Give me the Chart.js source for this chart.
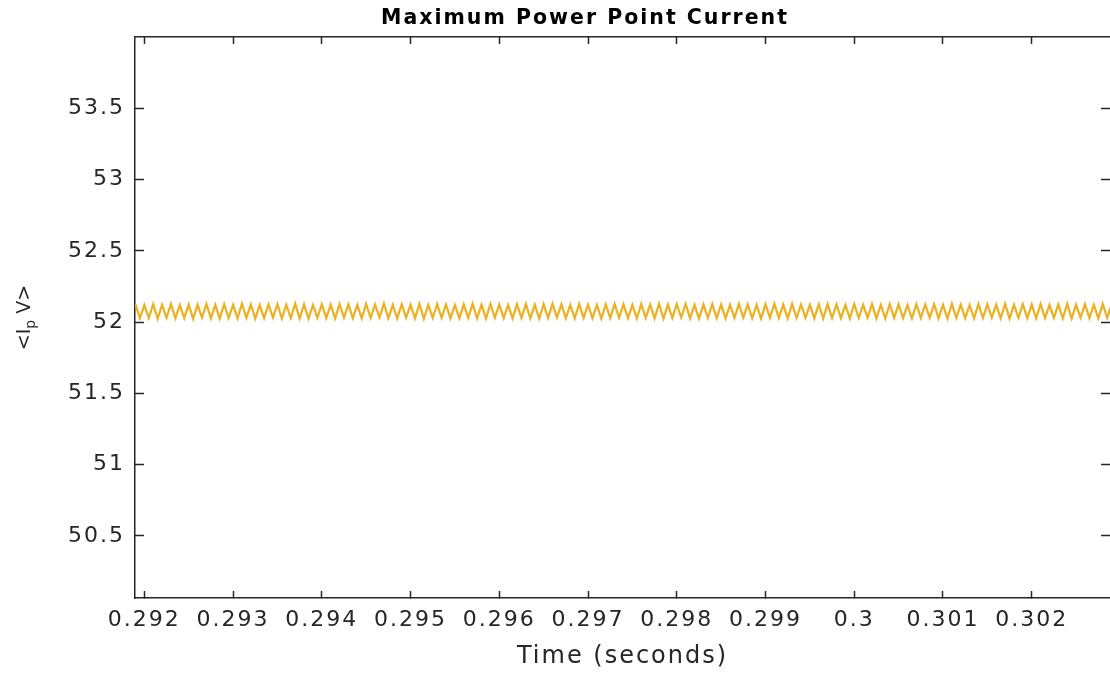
<!DOCTYPE html>
<html><head><meta charset="utf-8">
<script src="https://cdn.jsdelivr.net/npm/chart.js@4.4.1/dist/chart.umd.min.js"></script>
<style>html,body{margin:0;padding:0;background:#fff;overflow:hidden}canvas{display:block}</style>
</head><body>
<canvas id="c" width="1110" height="674" style="width:1110px;height:674px"></canvas>
<script>
const chartTitle = 'Maximum Power Point Current';
const xAxisTitle = 'Time (seconds)';
const yAxisLabelParts = ['<I', 'p', ' V>'];
const xTickValues = [0.292, 0.293, 0.294, 0.295, 0.296, 0.297, 0.298, 0.299, 0.300, 0.301, 0.302];
const xTickLabels = ['0.292', '0.293', '0.294', '0.295', '0.296', '0.297', '0.298', '0.299', '0.3', '0.301', '0.302'];
const yTickValues = [50.5, 51, 51.5, 52, 52.5, 53, 53.5];
const yTickLabels = ['50.5', '51', '51.5', '52', '52.5', '53', '53.5'];
const xRange = [0.291895, 0.302882];
const yRange = [50.065, 54.0];
const sampleStart = 0.2919;
const samplePeriod = 0.00005;
const currentValues = [
  52.124, 52.027, 52.121, 52.029, 52.126, 52.025, 52.122, 52.030, 52.127, 52.026,
  52.120, 52.028, 52.125, 52.024, 52.123, 52.031, 52.128, 52.027, 52.121, 52.025,
  52.126, 52.029, 52.122, 52.026, 52.129, 52.030, 52.124, 52.025, 52.120, 52.028,
  52.125, 52.032, 52.127, 52.026, 52.122, 52.029, 52.130, 52.027, 52.124, 52.024,
  52.121, 52.030, 52.126, 52.028, 52.123, 52.025, 52.128, 52.031, 52.125, 52.027,
  52.122, 52.026, 52.127, 52.029, 52.124, 52.032, 52.129, 52.028, 52.121, 52.025,
  52.126, 52.030, 52.123, 52.027, 52.128, 52.024, 52.122, 52.029, 52.127, 52.031,
  52.124, 52.026, 52.120, 52.028, 52.125, 52.030, 52.129, 52.027, 52.123, 52.025,
  52.127, 52.031, 52.124, 52.028, 52.121, 52.026, 52.126, 52.030, 52.128, 52.027,
  52.123, 52.025, 52.126, 52.029, 52.130, 52.032, 52.125, 52.028, 52.122, 52.026,
  52.127, 52.030, 52.124, 52.027, 52.121, 52.025, 52.126, 52.029, 52.128, 52.031,
  52.125, 52.028, 52.122, 52.026, 52.127, 52.030, 52.124, 52.027, 52.129, 52.025,
  52.123, 52.029, 52.126, 52.032, 52.128, 52.027, 52.121, 52.025, 52.125, 52.030,
  52.127, 52.028, 52.124, 52.026, 52.122, 52.029, 52.128, 52.031, 52.125, 52.027,
  52.121, 52.025, 52.126, 52.030, 52.129, 52.028, 52.123, 52.026, 52.127, 52.029,
  52.124, 52.031, 52.122, 52.027, 52.126, 52.025, 52.128, 52.030, 52.125, 52.028,
  52.121, 52.026, 52.127, 52.029, 52.123, 52.032, 52.126, 52.027, 52.122, 52.025,
  52.128, 52.030, 52.125, 52.028, 52.121, 52.026, 52.127, 52.029, 52.124, 52.031,
  52.126, 52.027, 52.122, 52.025, 52.129, 52.030, 52.124, 52.028, 52.121, 52.026,
  52.127, 52.029, 52.125, 52.032, 52.123, 52.027, 52.128, 52.025, 52.122, 52.030,
  52.126, 52.028, 52.124, 52.026, 52.127, 52.029, 52.121, 52.031, 52.125, 52.027,
  52.128, 52.025, 52.123, 52.030, 52.126, 52.028, 52.122, 52.026, 52.127, 52.029,
  52.124
];

const FONT = 'DejaVu Sans';
const AXIS_COLOR = '#262626';
const points = currentValues.map((v, i) => ({ x: sampleStart + i * samplePeriod, y: v }));

const spacingPlugin = {
  id: 'spacing',
  beforeDraw(chart) { chart.ctx.letterSpacing = '2px'; }
};
const yLabelPlugin = {
  id: 'ylabel',
  afterDraw(chart) {
    const ctx = chart.ctx;
    const cy = (chart.chartArea.top + chart.chartArea.bottom) / 2;
    ctx.save();
    ctx.letterSpacing = '0px';
    ctx.fillStyle = AXIS_COLOR;
    ctx.textBaseline = 'alphabetic';
    ctx.textAlign = 'left';
    ctx.translate(30, cy);
    ctx.rotate(-Math.PI / 2);
    const mainFont = '19px "' + FONT + '"';
    const subFont = '14px "' + FONT + '"';
    ctx.font = mainFont;
    const w1 = ctx.measureText(yAxisLabelParts[0]).width;
    const w3 = ctx.measureText(yAxisLabelParts[2]).width;
    ctx.font = subFont;
    const w2 = ctx.measureText(yAxisLabelParts[1]).width;
    let x = -(w1 + w2 + w3) / 2;
    ctx.font = mainFont;
    ctx.fillText(yAxisLabelParts[0], x, 0); x += w1;
    ctx.font = subFont;
    ctx.fillText(yAxisLabelParts[1], x, 5); x += w2;
    ctx.font = mainFont;
    ctx.fillText(yAxisLabelParts[2], x, 0);
    ctx.restore();
  }
};

const tickFont = { family: FONT, size: 22 };
const setXTicks = s => { s.ticks = xTickValues.map(v => ({ value: v })); };
const setYTicks = s => { s.ticks = yTickValues.map(v => ({ value: v })); };

new Chart(document.getElementById('c'), {
  type: 'line',
  data: {
    datasets: [{
      data: points,
      borderColor: '#EDB120',
      borderWidth: 2.2,
      pointRadius: 0,
      tension: 0,
      fill: false
    }]
  },
  plugins: [spacingPlugin, yLabelPlugin],
  options: {
    responsive: false,
    animation: false,
    devicePixelRatio: 1,
    layout: { padding: { left: 60, right: 0, top: 0, bottom: 0 } },
    plugins: {
      legend: { display: false },
      tooltip: { enabled: false },
      title: {
        display: true, text: chartTitle, color: '#000',
        font: { family: FONT, size: 20.5, weight: 'bold' },
        padding: { top: 6, bottom: 6.4 }
      }
    },
    scales: {
      x: {
        type: 'linear', position: 'bottom', min: xRange[0], max: xRange[1],
        afterBuildTicks: setXTicks,
        afterFit: s => { s.height = 76; },
        ticks: { callback: (v, i) => xTickLabels[i], color: AXIS_COLOR, font: tickFont, padding: 16, maxRotation: 0, minRotation: 0, autoSkip: false },
        grid: { drawOnChartArea: false, drawTicks: true, tickLength: -7, tickColor: AXIS_COLOR, tickWidth: 1.5 },
        border: { display: true, color: AXIS_COLOR, width: 1.5 },
        title: { display: true, text: xAxisTitle, color: AXIS_COLOR, font: { family: FONT, size: 24 }, padding: { top: 0, bottom: 3 } }
      },
      x2: {
        type: 'linear', position: 'top', min: xRange[0], max: xRange[1],
        afterBuildTicks: setXTicks,
        afterFit: s => { s.height = 0; },
        ticks: { display: false },
        grid: { drawOnChartArea: false, drawTicks: true, tickLength: -7, tickColor: AXIS_COLOR, tickWidth: 1.5 },
        border: { display: true, color: AXIS_COLOR, width: 1.5 }
      },
      y: {
        type: 'linear', position: 'left', min: yRange[0], max: yRange[1],
        afterBuildTicks: setYTicks,
        afterFit: s => { s.width = 75; },
        ticks: { callback: (v, i) => yTickLabels[i], color: AXIS_COLOR, font: tickFont, padding: 19, autoSkip: false },
        grid: { drawOnChartArea: false, drawTicks: true, tickLength: -9, tickColor: AXIS_COLOR, tickWidth: 1.5 },
        border: { display: true, color: AXIS_COLOR, width: 1.5 }
      },
      y2: {
        type: 'linear', position: 'right', min: yRange[0], max: yRange[1],
        afterBuildTicks: setYTicks,
        afterFit: s => { s.width = 0; },
        ticks: { display: false },
        grid: { drawOnChartArea: false, drawTicks: true, tickLength: -9, tickColor: AXIS_COLOR, tickWidth: 1.5 },
        border: { display: false }
      }
    }
  }
});
</script>
</body></html>
